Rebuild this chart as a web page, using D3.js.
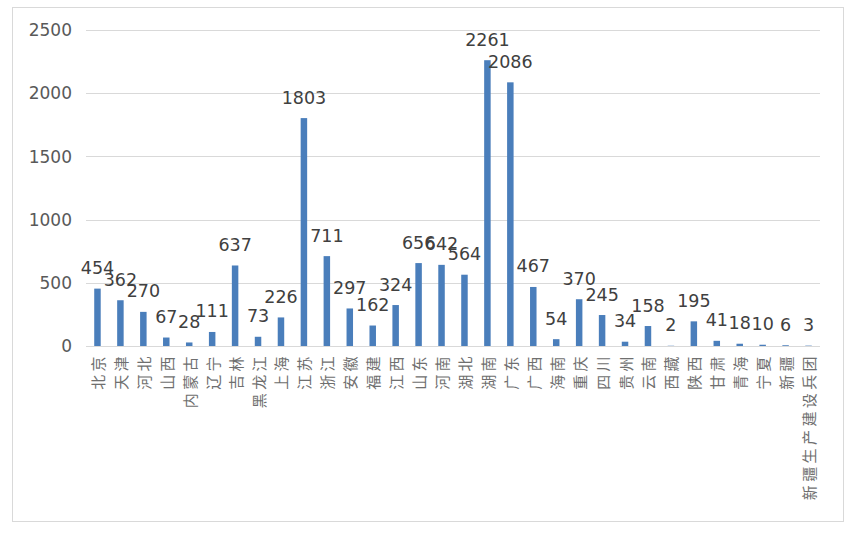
<!DOCTYPE html>
<html><head><meta charset="utf-8">
<script src="https://cdn.jsdelivr.net/npm/d3@7"></script>
<style>body{margin:0;background:#fff}svg{display:block}</style>
</head><body>
<script>
const categories = ["北京","天津","河北","山西","内蒙古","辽宁","吉林","黑龙江","上海","江苏","浙江","安徽","福建","江西","山东","河南","湖北","湖南","广东","广西","海南","重庆","四川","贵州","云南","西藏","陕西","甘肃","青海","宁夏","新疆","新疆生产建设兵团"];
const values = [454,362,270,67,28,111,637,73,226,1803,711,297,162,324,656,642,564,2261,2086,467,54,370,245,34,158,2,195,41,18,10,6,3];
const yTicks = [0,500,1000,1500,2000,2500];

const W = 857, H = 536;
const svg = d3.select("body").append("svg").attr("width", W).attr("height", H);

svg.append("rect").attr("x", 12.5).attr("y", 7.5).attr("width", 831).attr("height", 514)
  .attr("fill", "#fff").attr("stroke", "#d9d9d9").attr("stroke-width", 1);

const x = d3.scaleBand().domain(categories).range([86, 820]).paddingInner(0.717).paddingOuter(0.3585);
const y = d3.scaleLinear().domain([0, 2500]).range([346, 30]);

// gridlines
svg.append("g").selectAll("line").data(yTicks).join("line")
  .attr("x1", 86).attr("x2", 820)
  .attr("y1", d => Math.round(y(d)) + 0.5).attr("y2", d => Math.round(y(d)) + 0.5)
  .attr("stroke", "#d9d9d9").attr("stroke-width", 1);

// y tick labels
svg.append("g").selectAll("text").data(yTicks).join("text")
  .attr("x", 72).attr("y", d => y(d)).attr("dy", "0.36em")
  .attr("text-anchor", "end")
  .attr("font-family", "DejaVu Sans").attr("font-size", 17).attr("fill", "#595959")
  .text(d => d);

// bars
svg.append("g").selectAll("rect").data(values).join("rect")
  .attr("x", (d, i) => x(categories[i]))
  .attr("width", x.bandwidth())
  .attr("y", d => y(d))
  .attr("height", d => y(0) - y(d))
  .attr("fill", "#4a7ebb");

// data labels
svg.append("g").selectAll("text").data(values).join("text")
  .attr("x", (d, i) => x(categories[i]) + x.bandwidth() / 2)
  .attr("y", d => y(d) - 14.5)
  .attr("text-anchor", "middle")
  .attr("font-family", "DejaVu Sans").attr("font-size", 17.5).attr("fill", "#404040")
  .text(d => d);

// category labels (rotated)
svg.append("g").selectAll("text").data(categories).join("text")
  .attr("transform", d => `translate(${x(d) + x.bandwidth() / 2},353) rotate(-90)`)
  .attr("text-anchor", "end")
  .attr("dominant-baseline", "central")
  .attr("font-family", "Noto Sans CJK SC").attr("font-size", 15)
  .attr("letter-spacing", "3.4px")
  .attr("fill", "#6f6f6f")
  .text(d => d);
</script>
</body></html>
